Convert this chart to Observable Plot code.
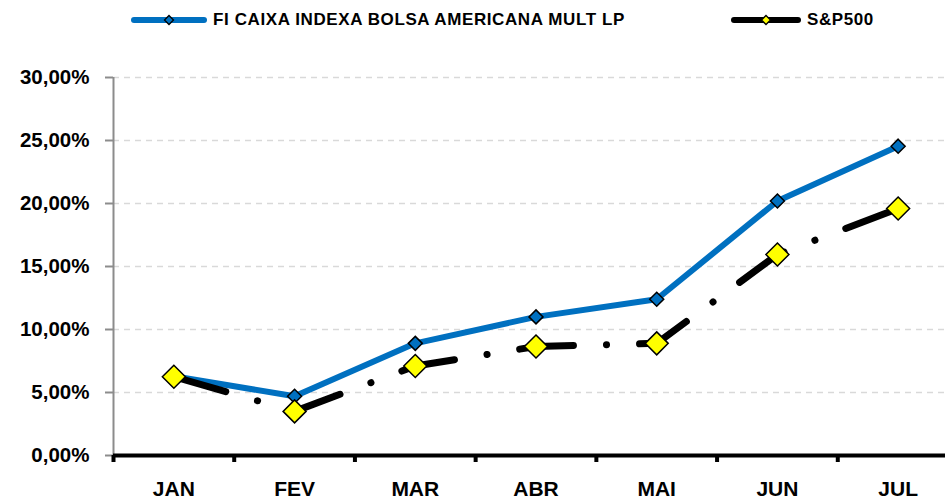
<!DOCTYPE html>
<html>
<head>
<meta charset="utf-8">
<script src="https://cdn.jsdelivr.net/npm/d3@7"></script>
<script src="https://cdn.jsdelivr.net/npm/@observablehq/plot@0.6"></script>
<style>
  html, body { margin: 0; padding: 0; background: #fff; }
  body { width: 945px; height: 499px; overflow: hidden; font-family: "Liberation Sans", Arial, sans-serif; }
  #legend { position: relative; height: 40px; width: 945px; }
  .item { position: absolute; top: 0; height: 40px; display: flex; align-items: center; font-weight: bold; font-size: 17px; letter-spacing: 0.6px; color: #000; white-space: nowrap; }
  .item svg { display: block; margin-right: 5px; }
</style>
</head>
<body>
<div id="legend"></div>
<div id="chart"></div>
<script>
// ---- data ----
const months = ["JAN", "FEV", "MAR", "ABR", "MAI", "JUN", "JUL"];
const fundName = "FI CAIXA INDEXA BOLSA AMERICANA MULT LP";
const spName = "S&P500";
const fundValues = [6.3, 4.7, 8.9, 11.0, 12.4, 20.2, 24.55];
const spValues = [6.25, 3.5, 7.1, 8.65, 8.9, 15.95, 19.6];
const yTicks = [0, 5, 10, 15, 20, 25, 30];

// ---- styles ----
const blue = "#0070C0";
const yellow = "#FFFF00";

const fundData = months.map((m, i) => ({i, month: m, value: fundValues[i]}));
const spData = months.map((m, i) => ({i, month: m, value: spValues[i]}));
const boundaries = d3.range(months.length + 1).map(k => k - 0.5);

const diamond = {
  draw(ctx, size) {
    const h = Math.sqrt(size / Math.PI);
    ctx.moveTo(0, -h); ctx.lineTo(h, 0); ctx.lineTo(0, h); ctx.lineTo(-h, 0); ctx.closePath();
  }
};

const fmt = d => d.toFixed(2).replace(".", ",") + "%";
const font = "'Liberation Sans', Arial, sans-serif";

const chart = Plot.plot({
  width: 945,
  height: 459,
  marginTop: 37,
  marginBottom: 44,
  marginLeft: 113,
  marginRight: -13,
  style: {fontFamily: font, background: "#fff", color: "#000", overflow: "visible"},
  x: {type: "linear", domain: [-0.5, months.length - 0.5]},
  y: {domain: [0, 30]},
  marks: [
    Plot.ruleY(yTicks.filter(d => d > 0), {stroke: "#d9d9d9", strokeWidth: 1.5, strokeDasharray: "6,5"}),
    Plot.ruleX([-0.5], {stroke: "#8c8c8c", strokeWidth: 2}),
    Plot.axisY({ticks: yTicks, tickSize: 8, tickPadding: 16, tickFormat: fmt, stroke: "#8c8c8c", strokeWidth: 2, fontSize: 20.5, fontWeight: "bold", label: null}),
    Plot.ruleY([0], {stroke: "#000", strokeWidth: 4}),
    Plot.axisX({ticks: boundaries, tickSize: 7, tickFormat: () => "", stroke: "#000", strokeWidth: 4, label: null}),
    Plot.axisX({ticks: d3.range(months.length), tickSize: 0, tickPadding: 26, tickFormat: i => months[i], fontSize: 21, fontWeight: "bold", label: null}),
    Plot.line(fundData, {x: "i", y: "value", stroke: blue, strokeWidth: 6, strokeLinejoin: "round"}),
    Plot.dot(fundData, {x: "i", y: "value", symbol: diamond, r: 7, fill: blue, stroke: "#000", strokeWidth: 1.5}),
    Plot.line(spData, {x: "i", y: "value", stroke: "#000", strokeWidth: 7, strokeLinecap: "round", strokeLinejoin: "round", strokeDasharray: "54,33,0.1,33"}),
    Plot.dot(spData, {x: "i", y: "value", symbol: diamond, r: 11.5, fill: yellow, stroke: "#000", strokeWidth: 1.5})
  ]
});
document.getElementById("chart").appendChild(chart);

// ---- legend ----
const legend = document.getElementById("legend");
function addItem(left, lineWidth, color, markerColor, markerR, label) {
  const item = document.createElement("div");
  item.className = "item";
  item.style.left = left + "px";
  const w = lineWidth;
  item.innerHTML =
    `<svg width="${w}" height="14" viewBox="0 0 ${w} 14">` +
    `<line x1="4" y1="7" x2="${w - 4}" y2="7" stroke="${color}" stroke-width="6" stroke-linecap="round"/>` +
    `<path d="M${w/2},${7-markerR}L${w/2+markerR},7L${w/2},${7+markerR}L${w/2-markerR},7Z" fill="${markerColor}" stroke="#000" stroke-width="1.3"/>` +
    `</svg>`;
  const span = document.createElement("span");
  span.textContent = label;
  item.appendChild(span);
  legend.appendChild(item);
}
addItem(130, 78, blue, blue, 4.5, fundName);
addItem(730, 72, "#000", yellow, 4.5, spName);
</script>
</body>
</html>
